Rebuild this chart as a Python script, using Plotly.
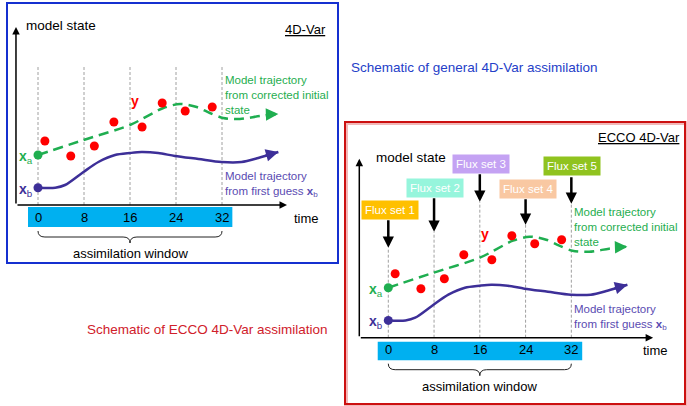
import plotly.graph_objects as go

W, H = 687, 406

# ---------------- data ----------------
ticks = [0, 8, 16, 24, 32]
tick_labels = ["0", "8", "16", "24", "32"]

# first-guess trajectory (time, model state)
t_bg = [0, 3, 4.7, 7.9, 10.5, 13.4, 16, 18, 20.9, 23.8, 27.9, 31.9, 35.4, 38.3, 41.8]
x_bg = [1.73, 1.73, 2.0, 3.3, 4.3, 5.0, 5.2, 5.3, 5.2, 4.9, 4.6, 4.3, 4.3, 4.7, 5.3]

# trajectory from corrected initial state
t_an = [0, 7.9, 16, 21.8, 24.7, 27.6, 29.9, 32.2, 35.1, 38.6, 41.8]
x_an = [5.0, 6.5, 8.0, 9.7, 10.1, 9.8, 9.2, 8.7, 8.6, 8.9, 9.1]

# observations y
t_obs = [1.2, 5.7, 9.8, 13.2, 18.1, 21.6, 25.6, 30.3]
y_obs = [6.4, 4.9, 5.9, 8.3, 7.8, 10.2, 9.4, 9.8]

flux_labels = ["Flux set 1", "Flux set 2", "Flux set 3", "Flux set 4", "Flux set 5"]
flux_times = [0, 8, 16, 24, 32]
flux_colors = ["#FFC000", "#96F5DC", "#C4A2F3", "#F9C8A2", "#90C31F"]

# ---------------- styles / layout geometry ----------------
FONT = "Liberation Sans, Arial, sans-serif"
C_BLUE = "#3D2F98"
C_BLUE_TXT = "#5A4BB2"
C_GREEN = "#1FAE50"
C_RED = "#FF0000"

# panel geometry: origin pixel of (t=0, state=0) and pixels per unit
panels = {
    "left": dict(xa="x", ya="y", x0=38.0, sx=5.75, y0=205.0, sy=10.0,
                 ax_left=-3.83, ax_right=43.3, ax_top=17.8, dash_top=[14, 14, 14, 14, 14],
                 bar=(-1.74, 33.8, -0.2, -2.2)),
    "right": dict(xa="x2", ya="y2", x0=388.3, sx=5.72, y0=337.7, sy=10.0,
                  ax_left=-5.07, ax_right=46.3, ax_top=17.9, dash_top=[9.0, 10.6, 13.6, 11.3, 13.4],
                  bar=(-1.85, 33.9, -0.4, -2.25)),
}

def px(x, y):
    return x / W, 1 - y / H

fig = go.Figure()
shapes = []
ann = []

for name, p in panels.items():
    xa, ya = p["xa"], p["ya"]
    # dashed vertical lines
    for t, top in zip(ticks, p["dash_top"]):
        shapes.append(dict(type="line", xref=xa, yref=ya, x0=t, x1=t, y0=0, y1=top,
                           line=dict(color="#A0A0A0", width=1, dash="3px,2px"), layer="below"))
    # blue time bar
    b = p["bar"]
    shapes.append(dict(type="rect", xref=xa, yref=ya, x0=b[0], x1=b[1], y0=b[2], y1=b[3],
                       fillcolor="#00B0F0", line=dict(width=0), layer="below"))
    # brace
    t0, t1 = ticks[0], ticks[-1]
    tm = (t0 + t1) / 2
    yt, ym, yb = -2.6, -3.2, -3.8
    path = (f"M {t0},{yt} Q {t0},{ym} {t0+1.2},{ym} L {tm-1.2},{ym} Q {tm},{ym} {tm},{yb} "
            f"Q {tm},{ym} {tm+1.2},{ym} L {t1-1.2},{ym} Q {t1},{ym} {t1},{yt}")
    shapes.append(dict(type="path", xref=xa, yref=ya, path=path,
                       line=dict(color="#222222", width=1)))
    # axes arrows
    ann.append(dict(xref=xa, yref=ya, axref=xa, ayref=ya, x=p["ax_left"], y=p["ax_top"],
                    ax=p["ax_left"], ay=0, text="", showarrow=True, arrowhead=2,
                    arrowsize=1, arrowwidth=1.5, arrowcolor="#000"))
    ann.append(dict(xref=xa, yref=ya, axref=xa, ayref=ya, x=p["ax_right"], y=0,
                    ax=p["ax_left"], ay=0, text="", showarrow=True, arrowhead=2,
                    arrowsize=1, arrowwidth=1.5, arrowcolor="#000"))
    # tick labels
    for t, lab in zip(ticks, tick_labels):
        ann.append(dict(xref=xa, yref=ya, x=t, y=-1.2, text=lab, showarrow=False,
                        font=dict(family=FONT, size=13, color="#000")))
    ann.append(dict(xref=xa, yref=ya, x=44.2, y=-1.3, text="time", showarrow=False,
                    xanchor="left", font=dict(family=FONT, size=13, color="#000")))
    ann.append(dict(xref=xa, yref=ya, x=16, y=-4.85, text="assimilation window", showarrow=False,
                    font=dict(family=FONT, size=13, color="#000")))
    ann.append(dict(xref=xa, yref=ya, x=-2.5, y=18.0, text="model state", showarrow=False,
                    xanchor="left", font=dict(family=FONT, size=13.5, color="#000")))
    # trajectories
    fig.add_trace(go.Scatter(x=t_bg, y=x_bg, mode="lines", xaxis=xa, yaxis=ya,
                             line=dict(color=C_BLUE, width=2.5, shape="spline", smoothing=0.8),
                             hoverinfo="skip", showlegend=False))
    fig.add_trace(go.Scatter(x=t_an, y=x_an, mode="lines", xaxis=xa, yaxis=ya,
                             line=dict(color=C_GREEN, width=2.5, shape="spline", smoothing=0.8,
                                       dash="10px,6px"),
                             hoverinfo="skip", showlegend=False))
    fig.add_trace(go.Scatter(x=t_obs, y=y_obs, mode="markers", xaxis=xa, yaxis=ya,
                             marker=dict(color=C_RED, size=9), hoverinfo="skip", showlegend=False))
    fig.add_trace(go.Scatter(x=[t_an[0]], y=[x_an[0]], mode="markers", xaxis=xa, yaxis=ya,
                             marker=dict(color=C_GREEN, size=9), hoverinfo="skip", showlegend=False))
    fig.add_trace(go.Scatter(x=[t_bg[0]], y=[x_bg[0]], mode="markers", xaxis=xa, yaxis=ya,
                             marker=dict(color=C_BLUE, size=9), hoverinfo="skip", showlegend=False))
    # arrowheads on trajectories
    ann.append(dict(xref=xa, yref=ya, axref=xa, ayref=ya, x=t_bg[-1], y=x_bg[-1],
                    ax=t_bg[-2] + 1.0, ay=x_bg[-2] + 0.2, text="", showarrow=True, arrowhead=2,
                    arrowsize=1, arrowwidth=2.5, arrowcolor=C_BLUE))
    ann.append(dict(xref=xa, yref=ya, axref=xa, ayref=ya, x=t_an[-1], y=x_an[-1],
                    ax=t_an[-1] - 1.5, ay=x_an[-1] - 0.03, text="", showarrow=True, arrowhead=2,
                    arrowsize=1, arrowwidth=2.5, arrowcolor=C_GREEN))
    # labels
    ann.append(dict(xref=xa, yref=ya, x=-0.5, y=x_an[0] - 0.2, text="<b>x</b><sub>a</sub>",
                    showarrow=False, xanchor="right",
                    font=dict(family=FONT, size=14, color=C_GREEN)))
    ann.append(dict(xref=xa, yref=ya, x=-0.5, y=x_bg[0] - 0.2, text="<b>x</b><sub>b</sub>",
                    showarrow=False, xanchor="right",
                    font=dict(family=FONT, size=14, color=C_BLUE)))
    ann.append(dict(xref=xa, yref=ya, x=16.9, y=10.4, text="<b>y</b>", showarrow=False,
                    font=dict(family=FONT, size=14, color=C_RED)))
    ann.append(dict(xref=xa, yref=ya, x=32.2, y=11.05,
                    text="Model trajectory<br>from corrected initial<br>state",
                    showarrow=False, xanchor="left", align="left",
                    font=dict(family=FONT, size=11.5, color=C_GREEN)))
    ann.append(dict(xref=xa, yref=ya, x=32.2, y=2.05,
                    text="Model trajectory<br>from first guess <b>x</b><sub>b</sub>",
                    showarrow=False, xanchor="left", align="left",
                    font=dict(family=FONT, size=11.5, color=C_BLUE_TXT)))

# flux sets (ECCO panel)
flux_box_state = [12.8, 15.0, 17.4, 14.9, 17.2]
flux_box_bottom = [11.9, 14.1, 16.5, 14.0, 16.2]
flux_box_dt = [0.3, 0.2, 0.2, 0.4, 0.2]
for lab, t, col, yb, ybb, tip, dt in zip(flux_labels, flux_times, flux_colors, flux_box_state,
                                         flux_box_bottom, panels["right"]["dash_top"], flux_box_dt):
    ann.append(dict(xref="x2", yref="y2", axref="x2", ayref="y2", x=t, y=tip, ax=t, ay=ybb,
                    text="", showarrow=True, arrowhead=2, arrowsize=0.9, arrowwidth=2.5,
                    arrowcolor="#000"))
    ann.append(dict(xref="x2", yref="y2", x=t + dt, y=yb, text=lab, showarrow=False,
                    bgcolor=col, borderpad=3,
                    font=dict(family=FONT, size=11.5, color="#FFFFFF")))

# panel borders
x0, y0 = px(7, 3); x1, y1 = px(338, 263)
shapes.append(dict(type="rect", xref="paper", yref="paper", x0=x0, y0=y0, x1=x1, y1=y1,
                   line=dict(color="#1530D0", width=2)))
x0, y0 = px(346, 123); x1, y1 = px(686, 405)
shapes.append(dict(type="rect", xref="paper", yref="paper", x0=x0, y0=y0, x1=x1, y1=y1,
                   line=dict(color="#F2B8B8", width=4)))
x0, y0 = px(345, 122); x1, y1 = px(685, 404)
shapes.append(dict(type="rect", xref="paper", yref="paper", x0=x0, y0=y0, x1=x1, y1=y1,
                   line=dict(color="#CC1010", width=2)))

# titles inside panels
xx, yy = px(328, 20)
ann.append(dict(xref="paper", yref="paper", x=xx, y=yy, text="<u>4D-Var</u>", showarrow=False,
                xanchor="right", font=dict(family=FONT, size=13, color="#000")))
xx, yy = px(682, 137)
ann.append(dict(xref="paper", yref="paper", x=xx, y=yy, text="<u>ECCO 4D-Var</u>",
                showarrow=False, xanchor="right", font=dict(family=FONT, size=13, color="#000")))
# captions
xx, yy = px(349, 58)
ann.append(dict(xref="paper", yref="paper", x=xx, y=yy,
                text="Schematic of general 4D-Var assimilation", showarrow=False,
                xanchor="left", font=dict(family=FONT, size=13.5, color="#2440C8")))
xx, yy = px(85, 339)
ann.append(dict(xref="paper", yref="paper", x=xx, y=yy,
                text="Schematic of ECCO 4D-Var assimilation", showarrow=False,
                xanchor="left", font=dict(family=FONT, size=13.5, color="#D0202A")))

def axis_range(o, s, size):
    return [(0 - o) / s, (size - o) / s]

L, R = panels["left"], panels["right"]
ax_common = dict(visible=False, showgrid=False, zeroline=False, fixedrange=True, domain=[0, 1])
fig.update_layout(
    width=W, height=H, margin=dict(l=0, r=0, t=0, b=0),
    paper_bgcolor="white", plot_bgcolor="rgba(0,0,0,0)",
    xaxis=dict(range=axis_range(L["x0"], L["sx"], W), anchor="y", **ax_common),
    yaxis=dict(range=[(L["y0"] - H) / L["sy"], L["y0"] / L["sy"]], anchor="x", **ax_common),
    xaxis2=dict(range=axis_range(R["x0"], R["sx"], W), anchor="y2", **ax_common),
    yaxis2=dict(range=[(R["y0"] - H) / R["sy"], R["y0"] / R["sy"]], anchor="x2", **ax_common),
    shapes=shapes, annotations=ann, showlegend=False,
)
fig.write_html("out.html", config={"displayModeBar": False},
               post_script="document.body.style.margin='0';document.body.style.overflow='hidden';")
